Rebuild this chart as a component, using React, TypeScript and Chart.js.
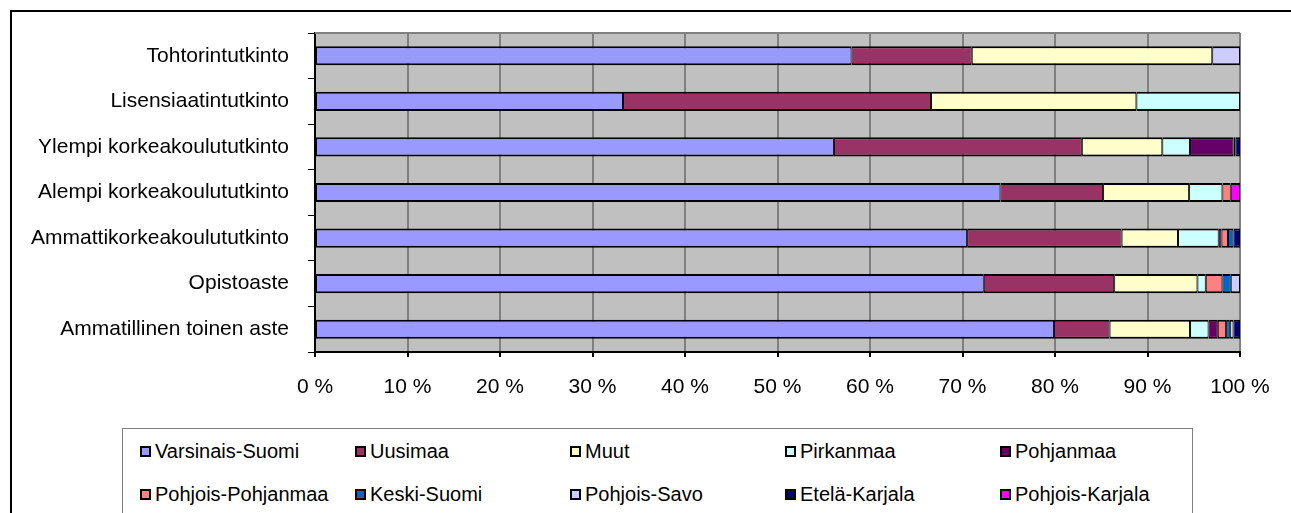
import { useEffect, useRef } from "react";
import { Chart, registerables } from "chart.js";

Chart.register(...registerables);

const categories = [
  "Tohtorintutkinto",
  "Lisensiaatintutkinto",
  "Ylempi korkeakoulututkinto",
  "Alempi korkeakoulututkinto",
  "Ammattikorkeakoulututkinto",
  "Opistoaste",
  "Ammatillinen toinen aste",
];

const seriesNames = [
  "Varsinais-Suomi",
  "Uusimaa",
  "Muut",
  "Pirkanmaa",
  "Pohjanmaa",
  "Pohjois-Pohjanmaa",
  "Keski-Suomi",
  "Pohjois-Savo",
  "Etelä-Karjala",
  "Pohjois-Karjala",
];

const varsinaisSuomi = [58, 33.3, 56.1, 74.1, 70.5, 72.3, 79.9];
const uusimaa = [13, 33.3, 26.8, 11.1, 16.7, 14.1, 6.0];
const muut = [26, 22.2, 8.7, 9.3, 6.1, 9.0, 8.7];
const pirkanmaa = [0, 11.2, 3.0, 3.6, 4.4, 0.9, 2.0];
const pohjanmaa = [0, 0, 4.7, 0, 0.3, 0, 1.0];
const pohjoisPohjanmaa = [0, 0, 0.2, 0.9, 0.7, 1.8, 0.9];
const keskiSuomi = [0, 0, 0, 0, 0.6, 0.9, 0.4];
const pohjoisSavo = [3, 0, 0, 0, 0, 1.0, 0.4];
const etelaKarjala = [0, 0, 0.5, 0, 0.7, 0, 0.7];
const pohjoisKarjala = [0, 0, 0, 1.0, 0, 0, 0];

const seriesValues = [
  varsinaisSuomi,
  uusimaa,
  muut,
  pirkanmaa,
  pohjanmaa,
  pohjoisPohjanmaa,
  keskiSuomi,
  pohjoisSavo,
  etelaKarjala,
  pohjoisKarjala,
];

const seriesColors = [
  "#9999FF",
  "#993366",
  "#FFFFCC",
  "#CCFFFF",
  "#660066",
  "#FF8080",
  "#0066CC",
  "#CCCCFF",
  "#000080",
  "#FF00FF",
];

const FONT = "'Liberation Sans', Arial, sans-serif";

export default function App() {
  const canvasRef = useRef<HTMLCanvasElement>(null);

  useEffect(() => {
    const canvas = canvasRef.current;
    if (!canvas) return;

    const plotBg = {
      id: "plotBg",
      beforeDraw(chart: any) {
        const { ctx, chartArea } = chart;
        const { left, top, right, bottom } = chartArea;
        ctx.save();
        ctx.fillStyle = "#C0C0C0";
        ctx.fillRect(left, top, right - left, bottom - top);
        ctx.restore();
      },
      beforeDatasetsDraw(chart: any) {
        const { ctx, chartArea } = chart;
        const { left, top, right } = chartArea;
        ctx.save();
        ctx.strokeStyle = "#808080";
        ctx.lineWidth = 2;
        ctx.beginPath();
        ctx.moveTo(left, top);
        ctx.lineTo(right, top);
        ctx.stroke();
        ctx.restore();
      },
    };

    const chart = new Chart(canvas, {
      type: "bar",
      data: {
        labels: categories,
        datasets: seriesNames.map((name, i) => ({
          label: name,
          data: seriesValues[i],
          backgroundColor: seriesColors[i],
          borderColor: "#000000",
          borderWidth: { top: 2, bottom: 2, left: 1, right: 1 },
          borderSkipped: false,
          barPercentage: 0.42,
          categoryPercentage: 1,
        })),
      },
      options: {
        indexAxis: "y",
        responsive: false,
        animation: false,
        devicePixelRatio: 1,
        layout: { padding: { left: 0, right: 51, top: 33, bottom: 0 } },
        plugins: {
          legend: { display: false },
          tooltip: { enabled: false },
        },
        scales: {
          x: {
            stacked: true,
            min: 0,
            max: 100,
            ticks: {
              stepSize: 10,
              color: "#000",
              font: { family: FONT, size: 21 },
              padding: 18,
              maxRotation: 0,
              callback: (v: any) => `${v} %`,
            },
            grid: {
              color: "#7f7f7f",
              lineWidth: 2,
              tickLength: 5,
              tickColor: "#000",
            },
            border: { display: true, color: "#000", width: 2 },
            afterFit: (scale: any) => {
              scale.height = 68;
            },
          },
          y: {
            stacked: true,
            ticks: {
              color: "#000",
              font: { family: FONT, size: 21 },
              padding: 19,
            },
            grid: {
              drawOnChartArea: false,
              tickLength: 7,
              tickColor: "#000",
              lineWidth: 1,
            },
            border: { display: true, color: "#000", width: 2 },
            afterFit: (scale: any) => {
              scale.width = 315;
            },
          },
        },
      },
      plugins: [plotBg],
    });

    return () => chart.destroy();
  }, []);

  const colLeft = [140, 355, 570, 785, 1000];

  return (
    <div
      style={{
        position: "fixed",
        left: 0,
        top: 0,
        width: 1291,
        height: 513,
        overflow: "hidden",
        background: "#fff",
        fontFamily: FONT,
      }}
    >
      <div
        style={{
          position: "absolute",
          left: 10,
          top: 10,
          width: 1400,
          height: 600,
          border: "2px solid #000",
        }}
      />
      <canvas
        ref={canvasRef}
        width={1291}
        height={420}
        style={{ position: "absolute", left: 0, top: 0, width: 1291, height: 420 }}
      />
      <div
        style={{
          position: "absolute",
          left: 122,
          top: 428,
          width: 1193 - 122,
          height: 200,
          border: "1px solid #808080",
          boxSizing: "border-box",
        }}
      />
      {seriesNames.map((name, i) => {
        const row = Math.floor(i / 5);
        const col = i % 5;
        const cy = row === 0 ? 451 : 494;
        return (
          <div
            key={name}
            style={{
              position: "absolute",
              left: colLeft[col],
              top: cy - 12,
              height: 24,
              display: "flex",
              alignItems: "center",
              whiteSpace: "nowrap",
              fontSize: 20,
              color: "#000",
            }}
          >
            <span
              style={{
                display: "inline-block",
                width: 11,
                height: 11,
                border: "2px solid #000",
                boxSizing: "border-box",
                background: seriesColors[i],
                marginRight: 4,
              }}
            />
            <span>{name}</span>
          </div>
        );
      })}
    </div>
  );
}
